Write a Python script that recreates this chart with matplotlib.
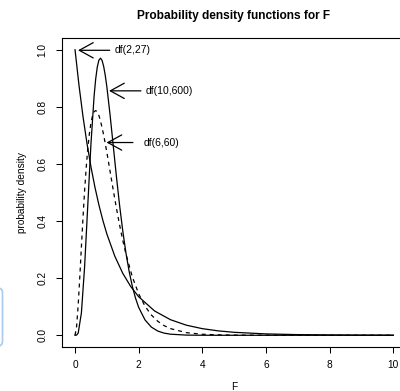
import matplotlib
matplotlib.use("Agg")
import matplotlib.pyplot as plt
from matplotlib.patches import FancyBboxPatch

# ---- data ----
x_f2_27 = [0, 0.125, 0.25, 0.375, 0.5, 0.625, 0.75, 0.875, 1.0, 1.25, 1.5, 1.75,
           2.0, 2.5, 3.0, 3.5, 4.0, 4.5, 5, 6, 7, 8, 9, 10]
y_f2_27 = [1.0, 0.8749, 0.7664, 0.6722, 0.5902, 0.5188, 0.4566, 0.4023, 0.3548,
           0.2769, 0.2170, 0.1708, 0.1349, 0.0851, 0.0545, 0.0353, 0.0232, 0.0154,
           0.0104, 0.0048, 0.0023, 0.0012, 0.0006, 0.0003]

x_f10_600 = [0, 0.05, 0.1, 0.2, 0.3, 0.4, 0.5, 0.6, 0.65, 0.7, 0.75, 0.8, 0.85, 0.9,
             0.95, 1.0, 1.1, 1.2, 1.3, 1.4, 1.5, 1.6, 1.7, 1.8, 1.9, 2.0, 2.2, 2.4,
             2.6, 2.8, 3.0, 3.5, 4.0, 5, 6, 7, 8, 9, 10]
y_f10_600 = [0, 0.0007, 0.0081, 0.0780, 0.2382, 0.4541, 0.6694, 0.8388, 0.8983,
             0.9398, 0.9634, 0.9704, 0.9624, 0.9416, 0.9101, 0.8701, 0.7730, 0.6649,
             0.5565, 0.4554, 0.3653, 0.2881, 0.2239, 0.1717, 0.1302, 0.0977, 0.0536,
             0.0285, 0.0148, 0.0075, 0.0038, 0.0006, 0.0001, 0, 0, 0, 0, 0, 0]

x_f6_60 = [0, 0.05, 0.1, 0.15, 0.2, 0.25, 0.3, 0.35, 0.4, 0.45, 0.5, 0.55, 0.6, 0.65,
           0.7, 0.75, 0.8, 0.9, 1.0, 1.1, 1.2, 1.3, 1.4, 1.5, 1.6, 1.8, 2.0, 2.2,
           2.4, 2.6, 2.8, 3.0, 3.5, 4.0, 4.5, 5, 6, 7, 8, 9, 10]
y_f6_60 = [0, 0.0316, 0.1072, 0.2048, 0.3096, 0.4117, 0.5049, 0.5857, 0.6526, 0.7050,
           0.7435, 0.7691, 0.7831, 0.7869, 0.7819, 0.7696, 0.7513, 0.7015, 0.6407,
           0.5751, 0.5091, 0.4456, 0.3864, 0.3325, 0.2843, 0.2047, 0.1451, 0.1017,
           0.0708, 0.0490, 0.0338, 0.0233, 0.0091, 0.0036, 0.0014, 0.0006, 0.0001,
           0, 0, 0, 0]

labels = ["df(2,27)", "df(10,600)", "df(6,60)"]
arrow_tips = [(0.094, 0.998), (1.07, 0.856), (0.99, 0.675)]
arrow_tails = [(1.09, 0.998), (2.07, 0.856), (1.82, 0.675)]
label_x = [1.25, 2.22, 2.17]

x_ticks = [0, 2, 4, 6, 8, 10]
y_ticks = [0.0, 0.2, 0.4, 0.6, 0.8, 1.0]

# ---- figure ----
plt.rcParams['font.family'] = ['Liberation Sans', 'DejaVu Sans']
W, H = 400, 391
fig = plt.figure(figsize=(W / 100, H / 100), dpi=100)
ax = fig.add_axes([62.3 / W, 44.3 / H, (406 - 62.3) / W, (352.7 - 44.3) / H])

lw = 0.9
ax.plot(x_f2_27, y_f2_27, color='black', lw=lw)
ax.plot(x_f10_600, y_f10_600, color='black', lw=lw)
ax.plot(x_f6_60, y_f6_60, color='black', lw=lw, linestyle=(0, (3.2, 3.2)))

for lab, tip, tail, lx in zip(labels, arrow_tips, arrow_tails, label_x):
    ax.annotate("", xy=tip, xytext=tail,
                arrowprops=dict(arrowstyle="->, head_length=1.0, head_width=0.55",
                                color='black', lw=lw, shrinkA=0, shrinkB=0,
                                mutation_scale=10))
    ax.text(lx, tail[1], lab, ha='left', va='center', fontsize=7.5)

ax.set_xlim(-0.4, 10.4)
ax.set_ylim(-0.04, 1.04)
ax.set_xticks(x_ticks)
ax.set_xticklabels([str(t) for t in x_ticks])
ax.set_yticks(y_ticks)
ax.set_yticklabels([f"{t:.1f}" for t in y_ticks])
ax.tick_params(axis='both', direction='out', length=4.3, width=0.75,
               labelsize=7.3, color='black')
ax.tick_params(axis='x', pad=5.5)
ax.tick_params(axis='y', pad=6.3, labelrotation=90)
for lbl in ax.get_yticklabels():
    lbl.set_va('center')
for s in ax.spines.values():
    s.set_linewidth(0.8)
    s.set_color('black')

fig.text(234 / W, 1 - 15.5 / H, "Probability density functions for F",
         ha='center', va='center', fontsize=8.6, fontweight='bold')
fig.text(22 / W, 1 - 192.5 / H, "probability density", rotation=90,
         ha='center', va='center', fontsize=7.3)
fig.text(234 / W, 1 - 381.5 / H, "F", ha='center', va='top', fontsize=7.3)

# light blue rounded frame partially visible at the left edge
box = FancyBboxPatch((-20 / W, 1 - 346 / H), 22.5 / W, 58 / H,
                     boxstyle="round,pad=0,rounding_size=0.012",
                     transform=fig.transFigure, fill=False,
                     edgecolor='#a9c9ee', lw=1.2, clip_on=False)
fig.patches.append(box)

fig.savefig("out.png", dpi=100)
